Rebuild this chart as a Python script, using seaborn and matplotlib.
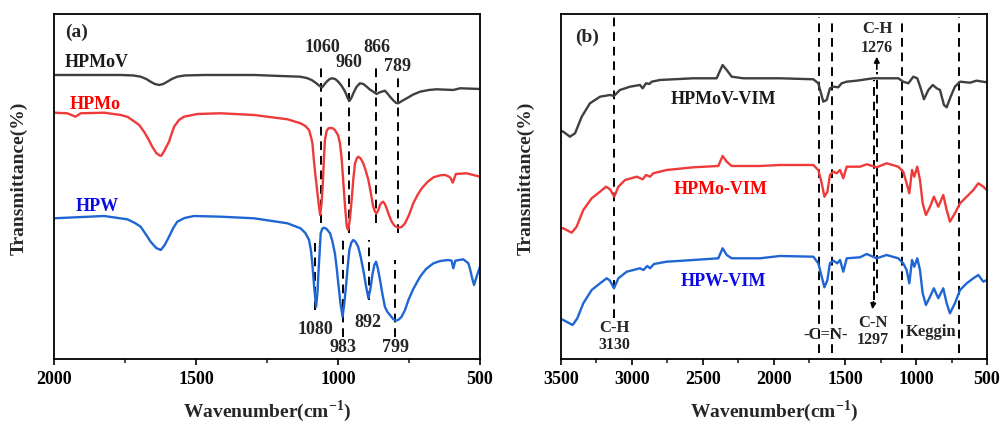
import numpy as np
import pandas as pd
import matplotlib
matplotlib.use("Agg")
import matplotlib.pyplot as plt
import seaborn as sns

# ---------------- (a) pure heteropolyacids, 2000-500 cm-1 ----------------
hpmov_wn = [2000, 1883, 1765, 1720, 1695, 1675, 1660, 1645, 1630, 1615, 1601, 1585, 1566,
            1540, 1472, 1296, 1204, 1134, 1110, 1093, 1080, 1069, 1057, 1048, 1040, 1030,
            1022, 1010, 999, 987, 975, 966, 960, 953, 946, 935, 923, 911, 899, 888, 876,
            864, 855, 846, 835, 826, 817, 805, 795, 788, 775, 758, 735, 711, 680, 653, 594,
            570, 500]
hpmov_t = [284, 284, 284, 283.5, 282.3, 280, 277.3, 275, 274, 275, 277.3, 280, 282.3,
           283.5, 284, 284, 283, 282.3, 281, 279, 276.5, 274, 271.3, 274.5, 277.3, 279.8,
           280.7, 280, 277.3, 273, 267.3, 261, 258, 261, 265.7, 272, 275.7, 275, 272.3,
           269.5, 267.3, 265, 266.5, 267.3, 268.3, 265.5, 262.3, 258.5, 256, 255.7, 258,
           260.7, 264.5, 267.3, 269, 269.7, 269, 270.7, 270]

hpmo_wn = [2000, 1953, 1924, 1906, 1824, 1765, 1740, 1700, 1683, 1668, 1654, 1640, 1628,
           1622, 1612, 1595, 1585, 1577, 1560, 1542, 1495, 1413, 1296, 1178, 1132, 1115,
           1102, 1095, 1090, 1085, 1080, 1075, 1068, 1063, 1058, 1054, 1050, 1046, 1040,
           1034, 1020, 1011, 1000, 993, 987, 981, 975, 969, 964, 958, 952, 946, 940, 934,
           929, 920, 911, 902, 893, 885, 876, 870, 864, 858, 852, 846, 841, 835, 829, 820,
           811, 800, 788, 776, 764, 750, 735, 720, 705, 685, 664, 640, 623, 610, 603, 596,
           590, 585, 547, 500]
hpmo_t = [246.3, 245.7, 242.3, 245.7, 246.3, 244, 242, 234, 227.3, 220, 212.3, 206, 203.5,
          203.3, 208, 217.3, 226, 232.3, 239, 242.3, 245, 245.7, 244, 239.7, 235.7, 233,
          229, 222, 215.7, 199, 185, 172.3, 155, 144, 155, 172.3, 198, 219, 228, 230.7, 231,
          229, 224, 215.7, 200, 175.7, 152, 132.3, 129, 140, 159, 180, 195.7, 200.5, 202.3,
          200.5, 195.7, 188, 179, 167, 152.3, 147.5, 145.7, 149, 154, 156.5, 157.3, 155,
          150.7, 143.5, 137.3, 133, 131.3, 132, 135.7, 144, 155.7, 164, 170.7, 177, 181.7,
          183.7, 184, 182.5, 180.7, 176.3, 181, 185, 185.7, 182.3]

hpw_wn = [2000, 1824, 1742, 1715, 1695, 1675, 1660, 1640, 1624, 1610, 1595, 1580, 1566,
          1540, 1507, 1413, 1296, 1178, 1132, 1115, 1102, 1095, 1090, 1084, 1077, 1072, 1069,
          1064, 1061, 1055, 1049, 1040, 1028, 1020, 1011, 1005, 999, 991, 984, 978, 972, 966,
          960, 953, 946, 938, 929, 920, 911, 902, 893, 886, 878, 872, 866, 860, 852, 843,
          835, 826, 817, 806, 796, 786, 776, 764, 752, 735, 711, 690, 664, 640, 612, 600,
          594, 587, 559, 541, 535, 529, 521, 512, 500]
hpw_t = [140.7, 143, 139.7, 136, 132.3, 124, 117.3, 111, 109, 114, 122.3, 131, 137.3, 141,
         143, 142.3, 140.7, 135.7, 130.7, 126, 119, 108, 94, 72, 52.3, 68, 85.7, 110, 125.7,
         130.5, 131.3, 130, 125.7, 118, 105.7, 92, 75.7, 55, 42.3, 55, 72.3, 92, 109, 116.5,
         119, 117, 112.3, 102, 89, 74, 60.7, 70, 85.7, 94, 97.3, 91, 79, 64, 52.3, 47, 44,
         40, 38.3, 39.5, 42.3, 49, 59, 70, 82.3, 90, 95.7, 98, 99, 98.3, 90.7, 98.3, 99.7,
         95.7, 90, 82.3, 74, 82.3, 92.3]

# band positions marked in (a): wavenumber, line span, label and label height
a_top_bands = [1060, 960, 866, 789]
a_top_span = [(136, 292), (126, 282), (136, 292), (126, 282)]
a_top_text = [(1056, 311), (961, 296), (863, 311), (789, 292)]
a_bot_bands = [1080, 983, 892, 799]
a_bot_span = [(49, 116), (22, 119), (59, 119), (22, 99)]
a_bot_text = [(1081, 29), (983, 11), (894, 36), (796, 11)]

# ---------------- (b) VIM-based hybrids, 3500-500 cm-1 ----------------
hpmovv_wn = [3500, 3484, 3437, 3401, 3354, 3296, 3225, 3155, 3127, 3085, 3014, 2944, 2925,
             2901, 2878, 2861, 2803, 2568, 2404, 2362, 2333, 2298, 2216, 1958, 1723, 1688,
             1653, 1629, 1606, 1582, 1547, 1524, 1488, 1418, 1301, 1207, 1125, 1090, 1054,
             1019, 991, 967, 944, 913, 882, 854, 831, 803, 784, 756, 726, 690, 620, 573, 502]
hpmovv_t = [228, 227.3, 222.3, 225.7, 242.3, 255.7, 262.3, 264, 263, 269, 272.3, 274, 270.7,
            275.7, 275, 277.3, 279, 280.7, 280.7, 294, 289, 282.3, 280.7, 280.7, 279.7, 275.7,
            257.3, 259, 270.7, 272.3, 271.7, 275.7, 277.3, 278.3, 280.7, 280.7, 280.7, 277.3,
            275.7, 282.3, 280.7, 270.7, 259.7, 269, 274, 270.7, 269, 254, 251.7, 262.3, 272.3,
            277.3, 276.3, 278.3, 276.7]

hpmov_wn_b = [3500, 3484, 3425, 3390, 3343, 3284, 3225, 3183, 3155, 3125, 3096, 3049, 2967,
              2925, 2901, 2873, 2850, 2756, 2568, 2392, 2362, 2333, 2298, 2099, 1958, 1723,
              1688, 1664, 1645, 1624, 1606, 1582, 1559, 1535, 1512, 1488, 1394, 1347, 1277,
              1207, 1125, 1090, 1066, 1047, 1028, 1012, 991, 972, 953, 930, 901, 874, 843,
              808, 784, 761, 726, 690, 643, 596, 561, 526, 502]
hpmov_t_b = [131, 130.7, 126.3, 132.3, 149, 160.7, 167.3, 172.3, 169.7, 162.3, 172.3, 179,
             182.3, 179.7, 184, 182.3, 185.7, 189, 191.7, 193, 203, 197.3, 193, 193, 194,
             194, 189, 175.7, 162.3, 167.3, 184, 187.3, 185.7, 189, 180.7, 192.3, 192.3,
             194.7, 191.7, 195.7, 192.3, 187.3, 175.7, 165.7, 189, 182.3, 192.3, 179, 155.7,
             144, 152.3, 162.3, 152.3, 164, 149, 137.3, 145.7, 155.7, 162.3, 169, 175.7,
             172.3, 169]

hpwv_wn = [3500, 3484, 3418, 3385, 3343, 3284, 3225, 3178, 3155, 3127, 3096, 3037, 2944,
           2920, 2892, 2873, 2845, 2756, 2568, 2392, 2362, 2333, 2298, 2099, 1958, 1723, 1688,
           1664, 1645, 1624, 1606, 1582, 1554, 1535, 1512, 1488, 1394, 1347, 1277, 1207, 1125,
           1090, 1066, 1047, 1028, 1012, 991, 972, 953, 930, 901, 874, 843, 808, 784, 761,
           726, 690, 643, 596, 561, 526, 502]
hpwv_t = [40, 39, 34, 40.7, 55.7, 69, 75.7, 80.7, 78.3, 70.7, 80.7, 87.3, 90.7, 89, 93,
          90.7, 95, 97.3, 99, 100.7, 110.7, 104, 100.7, 100.7, 103, 102.3, 95.7, 82.3, 71.7,
          79, 95.7, 98.3, 95.7, 99, 87.3, 100.7, 101.7, 105, 100.7, 104, 100.7, 95.7, 89,
          75.7, 99, 92.3, 100.7, 89, 65.7, 54, 62.3, 70.7, 60.7, 70.7, 55.7, 45.7, 55.7, 69,
          75.7, 80.7, 84, 77.3, 79]

# reference lines in (b): wavenumber and vertical span
b_lines = [3130, 1681, 1589, 1297, 1276, 1097, 697]
b_spans = [(41, 342), (6, 342), (6, 340), (59, 279), (66, 287), (6, 340), (6, 342)]

GRAY, RED, BLUE = "#3f3f3f", "#ef3a3a", "#1f66d4"

sns.set_theme(style="ticks")
plt.rcParams["font.family"] = ["Liberation Serif", "DejaVu Serif"]
plt.rcParams["font.weight"] = "bold"
plt.rcParams["mathtext.fontset"] = "custom"
plt.rcParams["mathtext.rm"] = "Liberation Serif:bold"
plt.rcParams["mathtext.bf"] = "Liberation Serif:bold"

fig = plt.figure(figsize=(10, 4.25), dpi=100)
ax_a = fig.add_axes([0.054, 0.1553, 0.426, 0.8118])
ax_b = fig.add_axes([0.561, 0.1553, 0.426, 0.8118])


def spectrum(ax, wn, t, color):
    df = pd.DataFrame({"wavenumber": wn, "T": t})
    sns.lineplot(data=df, x="wavenumber", y="T", ax=ax, color=color, lw=1.7,
                 sort=False, estimator=None)


def vdash(ax, x, y0, y1):
    ax.plot([x, x], [y0, y1], color="black", lw=1.4, ls=(0, (4.5, 3)), zorder=1)


# ---- panel (a)
spectrum(ax_a, hpmov_wn, hpmov_t, GRAY)
spectrum(ax_a, hpmo_wn, hpmo_t, RED)
spectrum(ax_a, hpw_wn, hpw_t, BLUE)
for x, (y0, y1), (tx, ty) in zip(a_top_bands, a_top_span, a_top_text):
    vdash(ax_a, x, y0, y1)
    ax_a.text(tx, ty, str(x), ha="center", va="center", fontsize=13, fontweight="bold")
for x, (y0, y1), (tx, ty) in zip(a_bot_bands, a_bot_span, a_bot_text):
    vdash(ax_a, x, y0, y1)
    ax_a.text(tx, ty, str(x), ha="center", va="center", fontsize=13, fontweight="bold")
ax_a.text(1849, 296, "HPMoV", color="#1a1a1a", ha="center", va="center", fontsize=13, fontweight="bold")
ax_a.text(1856, 254, "HPMo", color="#ff0000", ha="center", va="center", fontsize=13, fontweight="bold")
ax_a.text(1849, 152, "HPW", color="#0a0ae6", ha="center", va="center", fontsize=13, fontweight="bold")
ax_a.text(1919, 327, "(a)", ha="center", va="center", fontsize=14, fontweight="bold")
ax_a.set_xlim(2000, 500)
ax_a.set_xticks([2000, 1500, 1000, 500])
ax_a.set_xticks([1750, 1250, 750], minor=True)

# ---- panel (b)
spectrum(ax_b, hpmovv_wn, hpmovv_t, GRAY)
spectrum(ax_b, hpmov_wn_b, hpmov_t_b, RED)
spectrum(ax_b, hpwv_wn, hpwv_t, BLUE)
for x, (y0, y1) in zip(b_lines, b_spans):
    vdash(ax_b, x, y0, y1)
ax_b.annotate("", xy=(1276, 305), xytext=(1276, 287),
              arrowprops=dict(arrowstyle="-|>", color="black", lw=1.2, mutation_scale=8))
ax_b.annotate("", xy=(1310, 47), xytext=(1297, 60),
              arrowprops=dict(arrowstyle="-|>", color="black", lw=1.2, mutation_scale=8))
ax_b.text(2359, 259, "HPMoV-VIM", color="#1a1a1a", ha="center", va="center", fontsize=13, fontweight="bold")
ax_b.text(2373, 169, "HPMo-VIM", color="#ff0000", ha="center", va="center", fontsize=13, fontweight="bold")
ax_b.text(2359, 77, "HPW-VIM", color="#0a0ae6", ha="center", va="center", fontsize=13, fontweight="bold")
ax_b.text(3317, 322, "(b)", ha="center", va="center", fontsize=14, fontweight="bold")
ax_b.text(3127, 31, "C-H", ha="center", va="center", fontsize=12, fontweight="bold")
ax_b.text(3127, 14, "3130", ha="center", va="center", fontsize=11.5, fontweight="bold")
ax_b.text(1634, 24, "-C=N-", ha="center", va="center", fontsize=12, fontweight="bold")
ax_b.text(1303, 36, "C-N", ha="center", va="center", fontsize=12, fontweight="bold")
ax_b.text(1303, 19, "1297", ha="center", va="center", fontsize=11.5, fontweight="bold")
ax_b.text(894, 27, "Keggin", ha="center", va="center", fontsize=12, fontweight="bold")
ax_b.text(1275, 330, "C-H", ha="center", va="center", fontsize=12, fontweight="bold")
ax_b.text(1275, 311, "1276", ha="center", va="center", fontsize=11.5, fontweight="bold")
ax_b.set_xlim(3500, 500)
ax_b.set_xticks(np.arange(3500, 499, -500))
ax_b.set_xticks(np.arange(3250, 500, -500), minor=True)

for ax in (ax_a, ax_b):
    ax.set_ylim(0, 345)
    ax.set_yticks([])
    for s in ax.spines.values():
        s.set_visible(True)
        s.set_linewidth(1.3)
        s.set_color("black")
    ax.tick_params(axis="x", which="major", direction="out", length=4, width=1.2,
                   labelsize=13, pad=5, colors="black")
    ax.tick_params(axis="x", which="minor", direction="out", length=3, width=1.2)
    for lbl in ax.get_xticklabels():
        lbl.set_fontweight("bold")
    ax.set_xlabel(r"Wavenumber(cm$^{\mathbf{-1}}$)", fontsize=14, fontweight="bold", labelpad=7)
    ax.set_ylabel("Transmittance(%)", fontsize=14, fontweight="bold")
    ax.yaxis.set_label_coords(-0.061, 0.525)

fig.savefig("out.png", dpi=100)
